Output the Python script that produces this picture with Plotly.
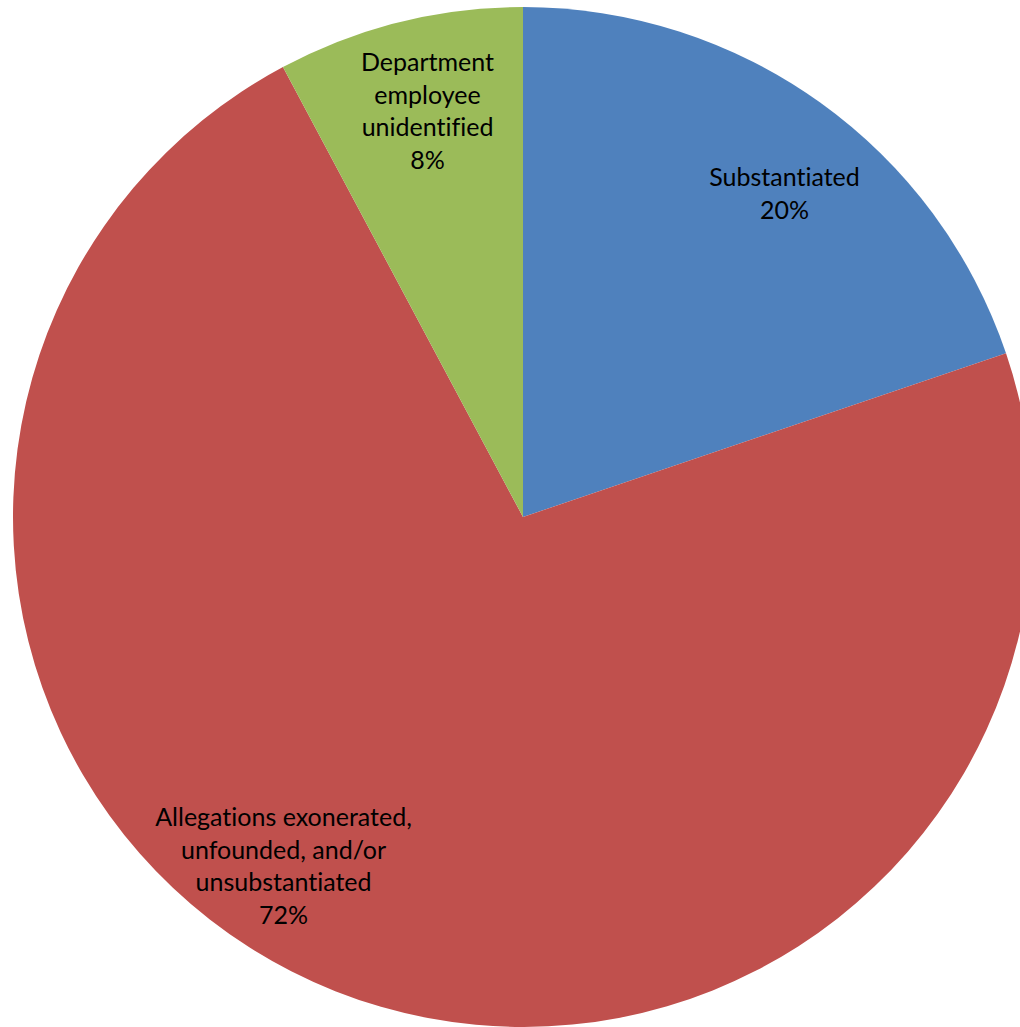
import plotly.graph_objects as go

# Data
categories = ["Substantiated", "Allegations exonerated,<br>unfounded, and/or<br>unsubstantiated", "Department<br>employee<br>unidentified"]
values = [19.8, 72.4, 7.8]
colors = ["#4F81BD", "#C0504D", "#9BBB59"]

# Layout geometry (pixels)
W, H = 1033, 1027
ML, MT = 13, 7
PLOT = 1020
# label block centres in page pixels (Excel "best fit" placements)
label_px = [(784, 192), (283, 865), (427, 110)]

total = sum(values)
fig = go.Figure(go.Pie(
    labels=categories,
    values=values,
    marker=dict(colors=colors, line=dict(width=0)),
    sort=False,
    direction="clockwise",
    rotation=0,
    textinfo="none",
    hoverinfo="label+percent",
    showlegend=False,
))

annotations = []
for cat, v, (px, py) in zip(categories, values, label_px):
    pct = round(v / total * 100)
    annotations.append(dict(
        x=(px - ML) / PLOT, y=1 - (py - MT) / PLOT,
        xref="paper", yref="paper",
        xanchor="center", yanchor="middle",
        text=f"{cat}<br>{pct}%",
        showarrow=False, align="center",
        font=dict(family="Lato, sans-serif", size=25, color="#000000"),
    ))

fig.update_layout(
    width=W, height=H,
    margin=dict(l=ML, r=W - ML - PLOT, t=MT, b=H - MT - PLOT),
    paper_bgcolor="white", plot_bgcolor="white",
    annotations=annotations,
)

fig.write_html(
    "out.html",
    config={"displayModeBar": False},
    post_script=(
        "document.body.style.margin='0';document.body.style.overflow='hidden';"
        "document.querySelectorAll('text').forEach(function(t){t.style.fontVariantLigatures='none';});"
    ),
)
